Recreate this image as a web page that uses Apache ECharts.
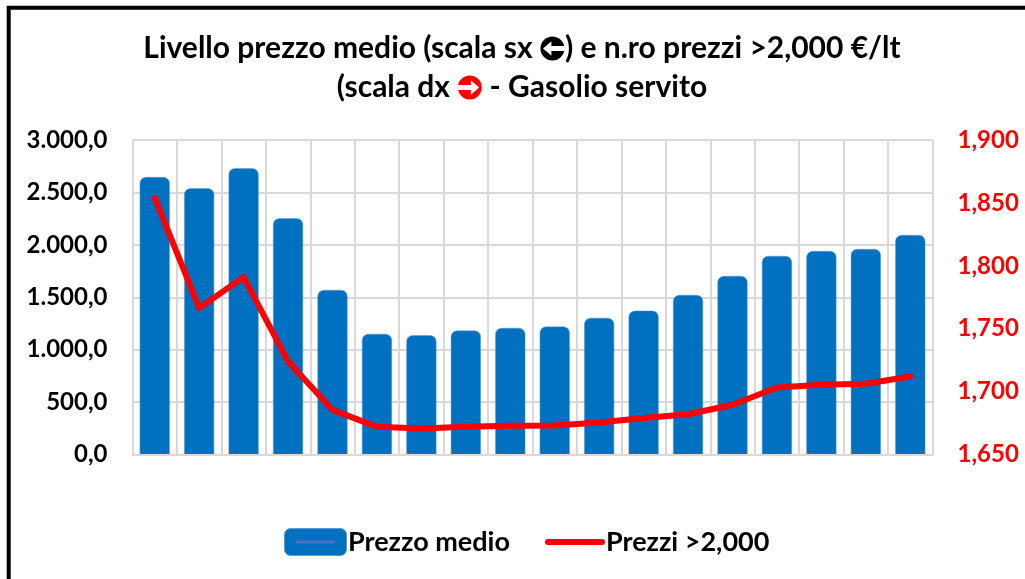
<!DOCTYPE html>
<html>
<head>
<meta charset="utf-8">
<title>Gasolio servito</title>
<script src="https://cdn.jsdelivr.net/npm/echarts@6/dist/echarts.min.js"></script>
<style>
  html, body { margin: 0; padding: 0; background: #fff; }
  #chart { width: 1025px; height: 579px; }
</style>
</head>
<body>
<div id="chart"></div>
<script>
var categories = ['1', '2', '3', '4', '5', '6', '7', '8', '9', '10', '11', '12', '13', '14', '15', '16', '17', '18'];
var prezzoMedio = [2647, 2539, 2730, 2253, 1570, 1150, 1138, 1182, 1207, 1220, 1303, 1372, 1522, 1703, 1894, 1941, 1960, 2094];
var prezziOltre = [1.854, 1.7665, 1.791, 1.724, 1.6855, 1.672, 1.6707, 1.672, 1.6728, 1.673, 1.6754, 1.679, 1.682, 1.6895, 1.7032, 1.7054, 1.7062, 1.712];

var FONT = 'Lato';

// frecce cerchiate del titolo (in origine glifi Wingdings)
function arrowIcon(color, dir) {
  var rot = dir === 'left' ? 'rotate(180 12 12)' : '';
  var svg = "<svg xmlns='http://www.w3.org/2000/svg' width='24' height='24'>" +
    "<circle cx='12' cy='12' r='11.5' fill='" + color + "'/>" +
    "<path transform='" + rot + "' d='M0 9.5H13V5L21 12L13 19V14.5H0Z' fill='#fff'/></svg>";
  return 'data:image/svg+xml;charset=utf-8,' + encodeURIComponent(svg);
}

function svgIcon(svg) {
  return 'image://data:image/svg+xml;charset=utf-8,' + encodeURIComponent(svg);
}

var swatchBar = "<svg xmlns='http://www.w3.org/2000/svg' width='63' height='28'>" +
  "<rect x='0.5' y='0.5' width='62' height='27' rx='6' fill='#0070c0' stroke='#5b9bd5'/>" +
  "<rect x='12' y='12.5' width='39' height='3' fill='#4f6fc4'/></svg>";
var swatchLine = "<svg xmlns='http://www.w3.org/2000/svg' width='63' height='28'>" +
  "<line x1='6' y1='14' x2='60' y2='14' stroke='#ff0000' stroke-width='6' stroke-linecap='round'/></svg>";

var chart = echarts.init(document.getElementById('chart'));

chart.setOption({
  animation: false,
  title: {
    text: 'Livello prezzo medio (scala sx {l| }) e n.ro prezzi >2,000 €/lt\n(scala dx {r| } - Gasolio servito',
    left: 517,
    top: 24,
    textAlign: 'center',
    textStyle: {
      fontFamily: FONT,
      fontWeight: 'bold',
      fontSize: 30,
      lineHeight: 39,
      color: '#000',
      rich: {
        l: { width: 25, height: 25, backgroundColor: { image: arrowIcon('#000', 'left') } },
        r: { width: 25, height: 25, backgroundColor: { image: arrowIcon('#ff0000', 'right') } }
      }
    }
  },
  legend: {
    left: 284,
    top: 528,
    padding: 0,
    itemWidth: 63,
    itemHeight: 28,
    itemGap: 32,
    textStyle: { fontFamily: FONT, fontWeight: 'bold', fontSize: 27, color: '#000', padding: [0, 0, 0, -4] },
    data: [
      { name: 'Prezzo medio', icon: svgIcon(swatchBar) },
      { name: 'Prezzi >2,000', icon: svgIcon(swatchLine) }
    ]
  },
  grid: { left: 132.5, right: 92.5, top: 140, bottom: 124.5 },
  xAxis: {
    type: 'category',
    z: 3,
    data: categories,
    axisTick: { show: false },
    axisLabel: { show: false },
    axisLine: { lineStyle: { color: '#d9d9d9', width: 2 } },
    splitLine: { show: true, lineStyle: { color: '#d9d9d9', width: 2 } }
  },
  yAxis: [
    {
      type: 'value',
      min: 0,
      max: 3000,
      interval: 500,
      axisLine: { show: false },
      axisTick: { show: false },
      splitLine: { lineStyle: { color: '#d9d9d9', width: 2 } },
      axisLabel: {
        fontFamily: FONT,
        fontWeight: 'bold',
        fontSize: 24,
        color: '#000',
        margin: 25,
        formatter: function (v) {
          return v.toFixed(1).replace('.', ',').replace(/(\d)(\d{3}),/, '$1.$2,');
        }
      }
    },
    {
      type: 'value',
      min: 1.65,
      max: 1.9,
      interval: 0.05,
      axisLine: { show: false },
      axisTick: { show: false },
      splitLine: { show: false },
      axisLabel: {
        fontFamily: FONT,
        fontWeight: 'bold',
        fontSize: 24,
        color: '#ff0000',
        margin: 25,
        formatter: function (v) {
          return v.toFixed(3).replace('.', ',');
        }
      }
    }
  ],
  series: [
    {
      name: 'Prezzo medio',
      type: 'bar',
      data: prezzoMedio,
      barWidth: 30,
      itemStyle: { color: '#0070c0', borderColor: '#5b9bd5', borderWidth: 0.5, borderRadius: [6, 6, 0, 0] }
    },
    {
      name: 'Prezzi >2,000',
      type: 'line',
      yAxisIndex: 1,
      data: prezziOltre,
      symbol: 'none',
      itemStyle: { color: '#ff0000' },
      lineStyle: { color: '#ff0000', width: 6, cap: 'round', join: 'round' }
    }
  ],
  graphic: [
    { type: 'rect', silent: true, shape: { x: 8.7, y: 7.7, width: 1030, height: 600 }, style: { fill: 'none', stroke: '#000', lineWidth: 4 } }
  ]
});
</script>
</body>
</html>
